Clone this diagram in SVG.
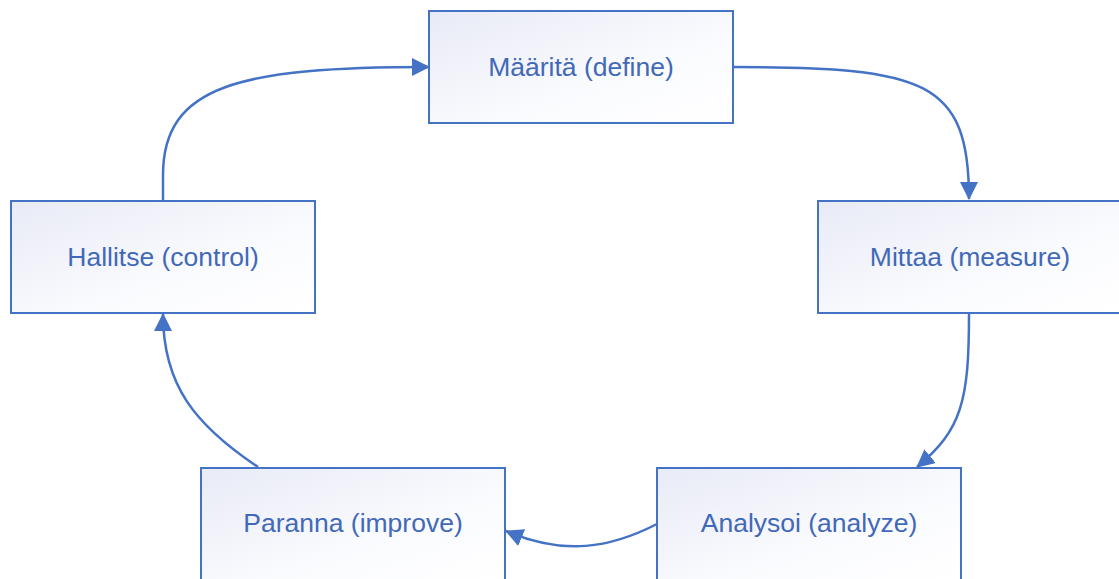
<svg xmlns="http://www.w3.org/2000/svg" width="1119" height="579" viewBox="0 0 1119 579">
  <defs>
    <linearGradient id="boxFill" x1="0" y1="0" x2="1" y2="1">
      <stop offset="0" stop-color="#e8eaf6"/>
      <stop offset="0.6" stop-color="#fafbfe"/>
      <stop offset="1" stop-color="#ffffff"/>
    </linearGradient>
    <marker id="arrow" markerUnits="userSpaceOnUse" markerWidth="18" markerHeight="18" refX="17" refY="9" orient="auto">
      <path d="M0,0 L18,9 L0,18 Z" fill="#4472c4"/>
    </marker>
    <style>
      .box { fill: url(#boxFill); stroke: #4472c4; stroke-width: 2; }
      .label { font-family: "Liberation Sans", Arial, sans-serif; font-size: 26.5px; fill: #4169b8; text-anchor: middle; dominant-baseline: central; }
      .edge { fill: none; stroke: #4472c4; stroke-width: 2.5; marker-end: url(#arrow); }
    </style>
  </defs>

  <g id="connectors">
    <path class="edge" d="M733,67 C925,67 969,80 969,199"/>
    <path class="edge" d="M969,314 C969,400 962,430 917,467"/>
    <path class="edge" d="M657,524 C610,548 565,556 506,531"/>
    <path class="edge" d="M258,467 C195,425 163,385 163,314"/>
    <path class="edge" d="M163,200 L163,175 C163,85 240,67 429,67"/>
  </g>

  <g id="define">
    <rect class="box" x="429" y="11" width="304" height="112"/>
    <text class="label" x="581" y="67">Määritä (define)</text>
  </g>
  <g id="measure">
    <rect class="box" x="818" y="201" width="304" height="112"/>
    <text class="label" x="970" y="257">Mittaa (measure)</text>
  </g>
  <g id="analyze">
    <rect class="box" x="657" y="468" width="304" height="112"/>
    <text class="label" x="809" y="523">Analysoi (analyze)</text>
  </g>
  <g id="improve">
    <rect class="box" x="201" y="468" width="304" height="112"/>
    <text class="label" x="353" y="523">Paranna (improve)</text>
  </g>
  <g id="control">
    <rect class="box" x="11" y="201" width="304" height="112"/>
    <text class="label" x="163" y="257">Hallitse (control)</text>
  </g>
</svg>
